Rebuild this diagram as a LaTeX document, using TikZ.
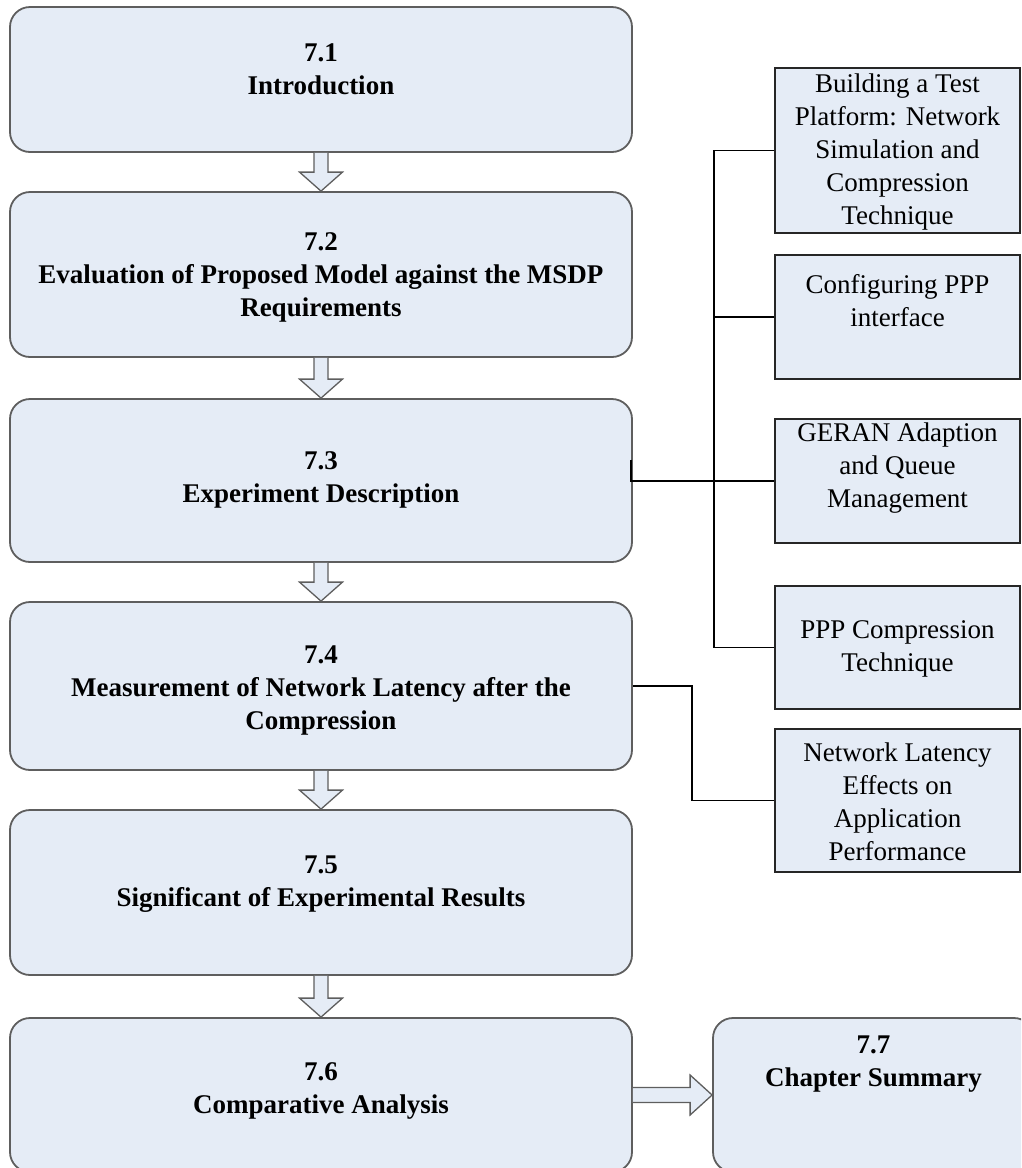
\documentclass[tikz,border=0pt]{standalone}
\usepackage{fontspec}
\setmainfont{Liberation Serif}
\usetikzlibrary{calc}
\definecolor{boxfill}{HTML}{E5ECF6}
\definecolor{boxedge}{HTML}{5E5E5E}
\newcommand\downblock[2]{%
  \draw[barrow] ($(#1.south)+(-7,0)$) -- ($(#2.north)+(-7,-19)$) -- ($(#2.north)+(-21.5,-19)$) -- (#2.north) -- ($(#2.north)+(21.5,-19)$) -- ($(#2.north)+(7,-19)$) -- ($(#1.south)+(7,0)$);}
\begin{document}
\begin{tikzpicture}[x=1pt,y=-1pt,
  mainbox/.style={draw=boxedge, line width=1.8pt, fill=boxfill, rounded corners=20pt, inner sep=0pt},
  sidebox/.style={draw=black!85, line width=1.4pt, fill=boxfill, inner sep=0pt, minimum width=245pt},
  ttl/.style={font=\bfseries\fontsize{27}{33}\selectfont, align=center, inner sep=0pt},
  side/.style={font=\fontsize{27}{33}\selectfont, align=center, inner sep=0pt},
  conn/.style={draw=black, line width=1.4pt},
  barrow/.style={draw=boxedge, line width=1.3pt, fill=boxfill, line join=miter}]
\useasboundingbox (0,0) rectangle (1021,1168);
\clip (0,0) rectangle (1021,1168);
% main boxes
\node[mainbox, minimum width=622pt, minimum height=145pt] (b1) at (321,79.5) {};
\node[mainbox, minimum width=622pt, minimum height=165pt] (b2) at (321,274.5) {};
\node[mainbox, minimum width=622pt, minimum height=163pt] (b3) at (321,480.5) {};
\node[mainbox, minimum width=622pt, minimum height=168pt] (b4) at (321,686) {};
\node[mainbox, minimum width=622pt, minimum height=165pt] (b5) at (321,892.5) {};
\node[mainbox, minimum width=622pt, minimum height=154pt] (b6) at (321,1095) {};
\node[mainbox, minimum width=321pt, minimum height=154pt] (b7) at (873.5,1095) {};
\node[ttl] (t1) at (321,69) {7.1\\Introduction};
\node[ttl] (t2) at (321,277.5) {7.2\\Evaluation of Proposed Model against the MSDP\\Requirements};
\node[ttl] (t3) at (321,480) {7.3\\Experiment Description};
\node[ttl] (t4) at (321,690.5) {7.4\\Measurement of Network Latency after the\\Compression};
\node[ttl] (t5) at (321,884) {7.5\\Significant of Experimental Results};
\node[ttl] (t6) at (321,1091) {7.6\\Comparative Analysis};
\node[ttl] (t7) at (873.5,1064) {7.7\\Chapter Summary};
% side boxes
\node[sidebox, minimum height=165pt] (rA) at (897.5,150.5) {};
\node[sidebox, minimum height=124pt] (rB) at (897.5,317) {};
\node[sidebox, minimum height=124pt] (rC) at (897.5,481) {};
\node[sidebox, minimum height=123pt] (rD) at (897.5,647.5) {};
\node[sidebox, minimum height=143pt] (rE) at (897.5,800.5) {};
\node[side] (sA) at (897.5,152) {Building a Test\\Platform: Network\\Simulation and\\Compression\\Technique};
\node[side] (sB) at (897.5,301) {Configuring PPP\\interface};
\node[side] (sC) at (897.5,468) {GERAN Adaption\\and Queue\\Management};
\node[side] (sD) at (897.5,649) {PPP Compression\\Technique};
\node[side] (sE) at (897.5,802) {Network Latency\\Effects on\\Application\\Performance};
% block arrows
\downblock{b1}{b2}
\downblock{b2}{b3}
\downblock{b3}{b4}
\downblock{b4}{b5}
\downblock{b5}{b6}
\draw[barrow] ($(b6.east)+(0,-7.5)$) -- ($(b7.west)+(-22,-7.5)$) -- ($(b7.west)+(-22,-20)$) -- (b7.west) -- ($(b7.west)+(-22,20)$) -- ($(b7.west)+(-22,7.5)$) -- ($(b6.east)+(0,7.5)$);
% connectors
\coordinate (bus) at (714,0);
\coordinate (elbow) at (692,0);
\draw[conn] (rA.west) -- (bus |- rA.west) -- (bus |- rD.west) -- (rD.west);
\draw[conn] (rB.west) -- (bus |- rB.west);
\draw[conn] ($(b3.east)+(-2,-21)$) |- (rC.west);
\draw[conn] (b4.east) -- (elbow |- b4.east) -- (elbow |- rE.west) -- (rE.west);
\end{tikzpicture}
\end{document}
